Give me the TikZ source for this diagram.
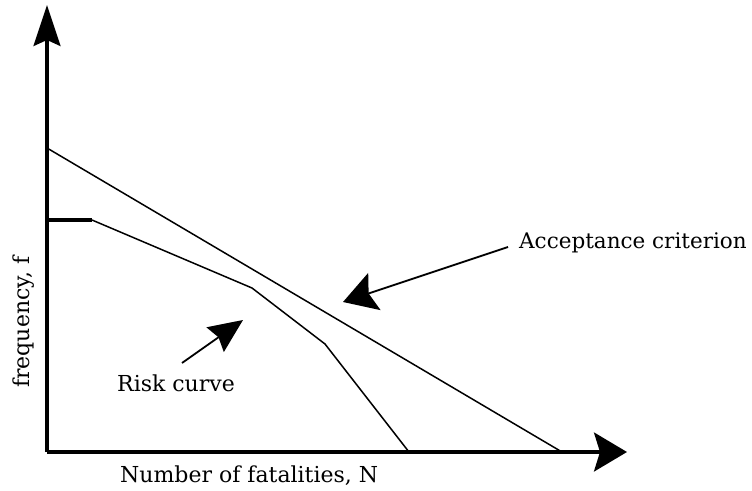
\documentclass[tikz,border=0pt]{standalone}
\usepackage{fontspec}
\setmainfont{DejaVu Serif}
\usetikzlibrary{arrows.meta}
\begin{document}
\begin{tikzpicture}[x=1pt,y=-1pt,
  axis/.style={line width=3.2pt},
  curve/.style={line width=1.5pt},
  pointer/.style={line width=1.8pt},
  lbl/.style={inner sep=0pt,font=\fontsize{22}{26}\selectfont}]
\useasboundingbox (0,0) rectangle (752,490);
% axes
\coordinate (O) at (47,452);
\coordinate (ytip) at (47,5);
\coordinate (xtip) at (627,452);
\draw[axis,-{Stealth[length=41pt,width=27pt,inset=6pt]}] (O) -- (ytip);
\draw[axis,-{Stealth[length=33pt,width=39pt,inset=6pt]}] (O) -- (xtip);
% acceptance criterion line
\coordinate (a0) at (47,148);
\coordinate (a1) at (562,452);
\draw[curve] (a0) -- (a1);
% risk curve
\coordinate (r0) at (47,220);
\coordinate (r1) at (92,220);
\coordinate (r2) at (252,288);
\coordinate (r3) at (325,344);
\coordinate (r4) at (409,452);
\draw[axis] (r0) -- (r1);
\draw[curve,line join=round] (r1) -- (r2) -- (r3) -- (r4);
% labels
\node[lbl,anchor=base west,font=\fontsize{21.5}{26}\selectfont] (acc) at (519,248) {Acceptance criterion};
\node[lbl,anchor=base west] (risk) at (117,391) {Risk curve};
\node[lbl,anchor=base west] (xl) at (120,482) {Number of fatalities, N};
\node[lbl,anchor=base west,rotate=90] (yl) at (29,388) {frequency, f};
% pointers
\coordinate (acctip) at (343,302);
\coordinate (risktip) at (243,320);
\path (acc.base west) ++(-11,-1) coordinate (acctail);
\draw[pointer,-{Stealth[length=33pt,width=39pt,inset=6pt]}] (acctail) -- (acctip);
\coordinate (risktail) at (182,363);
\draw[pointer,-{Stealth[length=34pt,width=30pt,inset=4pt]}] (risktail) -- (risktip);
\end{tikzpicture}
\end{document}
